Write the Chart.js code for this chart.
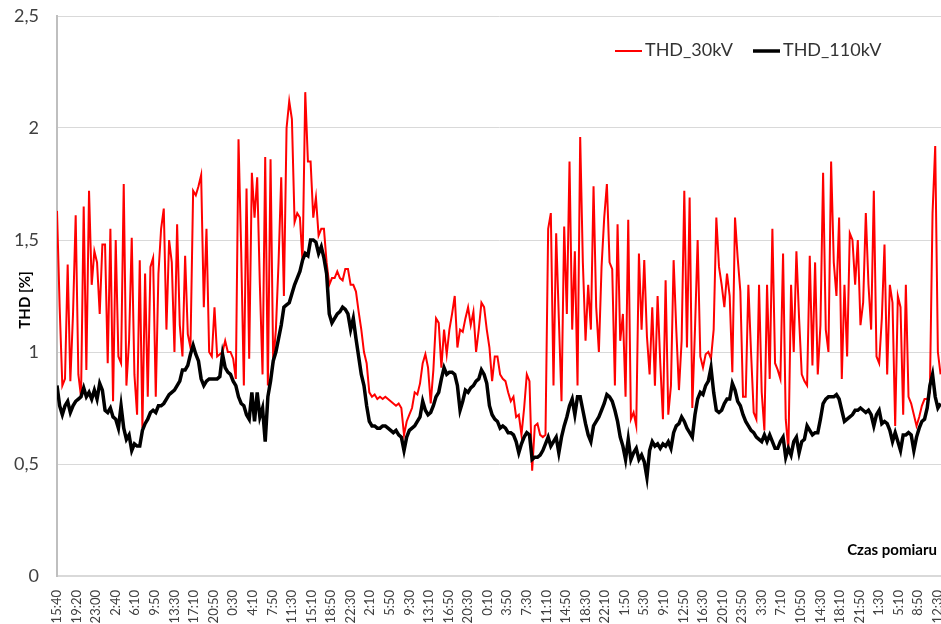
<!DOCTYPE html>
<html>
<head>
<meta charset="utf-8">
<title>THD</title>
<script src="https://cdn.jsdelivr.net/npm/chart.js@4.4.1/dist/chart.umd.min.js"></script>
<style>
  html, body { margin: 0; padding: 0; background: #fff; }
  canvas { display: block; }
</style>
</head>
<body>
<canvas id="thdChart" width="941" height="624"></canvas>
<script>
// ---------- DATA ----------
// one reading every 30 minutes, a time label every 220 minutes
const stepMinutes = 30;
const labelEveryMinutes = 220;

const timeLabels = [
  "15:40", "19:20", "23:00", "2:40", "6:10", "9:50", "13:30", "17:10", "20:50", "0:30",
  "4:10", "7:50", "11:30", "15:10", "18:50", "22:30", "2:10", "5:50", "9:30", "13:10",
  "16:50", "20:30", "0:10", "3:50", "7:30", "11:10", "14:50", "18:30", "22:10", "1:50",
  "5:30", "9:10", "12:50", "16:30", "20:10", "23:50", "3:30", "7:10", "10:50", "14:30",
  "18:10", "21:50", "1:30", "5:10", "8:50", "12:30"
];

const thd30kV = [
  1.63, 1.2, 0.85, 0.88, 1.39, 0.87, 1.17, 1.61, 0.9, 0.8, 1.65, 0.92, 1.72, 1.3, 1.45, 1.4,
  1.17, 1.48, 1.48, 0.95, 1.55, 0.78, 1.5, 0.98, 0.95, 1.75, 0.85, 1.05, 1.51, 0.9, 0.72, 1.41,
  0.66, 1.35, 0.8, 1.38, 1.42, 0.8, 1.35, 1.55, 1.64, 1.1, 1.5, 1.4, 1.0, 1.57, 1.12, 0.98,
  1.43, 1.08, 1.02, 1.72, 1.7, 1.74, 1.79, 1.2,
  1.55, 1.0, 0.98, 1.2, 0.98, 0.99, 1.0, 1.05, 1.0, 1.0, 0.97, 0.88, 1.95, 1.45, 0.85, 1.73,
  0.97, 1.8, 1.6, 1.78, 1.3, 0.9, 1.87, 0.85, 1.86, 0.95, 1.1, 1.4, 1.78, 1.25, 2.0, 2.12,
  2.04, 1.58, 1.62, 1.6, 1.4, 2.16, 1.85, 1.85, 1.6, 1.69, 1.52, 1.55, 1.55, 1.4, 1.3, 1.33,
  1.33, 1.36, 1.33, 1.32, 1.37, 1.37, 1.3,
  1.3, 1.27, 1.18, 1.1, 1.0, 0.95, 0.82, 0.8, 0.81, 0.79, 0.8, 0.79, 0.8, 0.79, 0.78, 0.77,
  0.76, 0.77, 0.75, 0.63, 0.69, 0.72, 0.75, 0.82, 0.81, 0.86, 0.95, 0.99, 0.93, 0.77, 0.92, 1.15,
  1.13, 0.93, 1.1, 0.99, 1.1, 1.17, 1.25, 1.02, 1.1, 1.09, 1.15, 1.2, 1.12, 1.18, 1.0, 1.1,
  1.22, 1.2, 1.1, 1.02, 0.87, 0.98, 0.98, 0.9,
  0.88, 0.87, 0.82, 0.78, 0.8, 0.71, 0.72, 0.63, 0.75, 0.9, 0.87, 0.47, 0.67, 0.68, 0.63, 0.62,
  0.63, 1.55, 1.62, 0.85, 1.53, 1.15, 0.78, 1.56, 1.17, 1.85, 1.1, 1.45, 0.85, 1.96, 1.4, 1.05,
  1.3, 1.1, 1.74, 1.2, 1.0, 1.38, 1.6, 1.75, 1.4, 1.37, 0.85, 1.57, 1.05, 1.17, 0.8, 1.59,
  0.7, 0.73, 0.67, 1.44, 1.1, 1.41, 1.07,
  0.9, 1.2, 0.85, 1.25, 0.95, 0.7, 1.32, 0.72, 0.85, 1.41, 1.1, 0.83, 1.05, 1.72, 1.02, 1.69,
  0.75, 1.1, 1.5, 0.98, 0.93, 0.99, 1.0, 0.97, 1.1, 1.6, 1.38, 1.3, 1.2, 1.35, 1.25, 0.91,
  1.6, 1.42, 1.27, 0.8, 0.8, 1.3, 1.0, 0.73, 0.7, 1.3, 0.82, 0.65, 1.3, 0.88, 1.55, 0.95,
  0.92, 0.88, 1.44, 0.7, 0.56, 1.3, 1.0, 1.45,
  1.15, 0.9, 0.87, 0.85, 1.43, 0.94, 1.4, 0.9, 1.12, 1.8, 1.1, 1.0, 1.85, 1.4, 1.25, 1.6,
  0.88, 1.3, 0.98, 1.53, 1.5, 1.3, 1.5, 1.12, 1.22, 1.62, 1.3, 1.1, 1.72, 0.98, 0.95, 1.15,
  1.48, 0.9, 1.3, 1.22, 0.67, 1.25, 1.2, 0.72, 1.3, 0.8, 0.77, 0.72, 0.67, 0.71, 0.76, 0.79,
  0.79, 0.82, 1.62, 1.92, 1.0, 0.9
];

const thd110kV = [
  0.85, 0.76, 0.72, 0.76, 0.78, 0.73, 0.76, 0.78, 0.79, 0.8, 0.84, 0.8, 0.82, 0.79, 0.83, 0.79,
  0.86, 0.83, 0.74, 0.73, 0.75, 0.71, 0.7, 0.66, 0.76, 0.66, 0.61, 0.63, 0.56, 0.59, 0.58, 0.58,
  0.65, 0.68, 0.7, 0.73, 0.74, 0.73, 0.76, 0.76, 0.77, 0.79, 0.81, 0.82, 0.83, 0.85, 0.87, 0.92,
  0.92, 0.94, 0.99, 1.03, 0.99, 0.96, 0.88, 0.85,
  0.87, 0.88, 0.88, 0.88, 0.88, 0.89, 0.99, 0.93, 0.91, 0.9, 0.87, 0.85, 0.8, 0.77, 0.76, 0.72,
  0.7, 0.82, 0.69, 0.82, 0.71, 0.75, 0.6, 0.8, 0.87, 0.96, 1.0, 1.06, 1.12, 1.2, 1.21, 1.22,
  1.26, 1.3, 1.33, 1.36, 1.41, 1.44, 1.43, 1.5, 1.5, 1.49, 1.44, 1.47, 1.42, 1.35, 1.17, 1.13,
  1.15, 1.17, 1.18, 1.2, 1.19, 1.17, 1.1,
  1.15, 1.06, 0.98, 0.9, 0.85, 0.76, 0.69, 0.67, 0.67, 0.66, 0.66, 0.67, 0.67, 0.66, 0.65, 0.64,
  0.65, 0.63, 0.62, 0.56, 0.62, 0.65, 0.66, 0.67, 0.69, 0.71, 0.78, 0.74, 0.72, 0.73, 0.76, 0.8,
  0.82, 0.88, 0.93, 0.9, 0.91, 0.91, 0.9, 0.85, 0.74, 0.78, 0.83, 0.82, 0.84, 0.85, 0.87, 0.88,
  0.92, 0.9, 0.86, 0.76, 0.72, 0.7, 0.69, 0.66,
  0.67, 0.66, 0.64, 0.64, 0.63, 0.6, 0.55, 0.59, 0.62, 0.64, 0.63, 0.52, 0.53, 0.53, 0.54, 0.56,
  0.59, 0.62, 0.58, 0.6, 0.62, 0.55, 0.62, 0.67, 0.71, 0.76, 0.79, 0.72, 0.8, 0.8, 0.74, 0.68,
  0.63, 0.6, 0.67, 0.69, 0.71, 0.74, 0.77, 0.81, 0.8, 0.78, 0.74, 0.69, 0.62, 0.58, 0.52, 0.61,
  0.52, 0.55, 0.57, 0.52, 0.54, 0.51, 0.44,
  0.56, 0.6, 0.58, 0.59, 0.57, 0.59, 0.58, 0.6, 0.57, 0.64, 0.67, 0.68, 0.71, 0.69, 0.66, 0.64,
  0.62, 0.72, 0.79, 0.82, 0.81, 0.85, 0.87, 0.93, 0.82, 0.74, 0.73, 0.74, 0.77, 0.79, 0.79, 0.86,
  0.83, 0.78, 0.76, 0.72, 0.69, 0.67, 0.65, 0.64, 0.62, 0.61, 0.6, 0.63, 0.6, 0.63, 0.6, 0.57,
  0.57, 0.6, 0.62, 0.53, 0.57, 0.54, 0.6, 0.62,
  0.55, 0.6, 0.61, 0.67, 0.65, 0.63, 0.64, 0.64, 0.7, 0.77, 0.79, 0.8, 0.8, 0.8, 0.81, 0.79,
  0.74, 0.69, 0.7, 0.71, 0.72, 0.74, 0.74, 0.75, 0.74, 0.73, 0.74, 0.72, 0.67, 0.72, 0.74, 0.68,
  0.69, 0.68, 0.65, 0.6, 0.64, 0.6, 0.56, 0.63, 0.63, 0.64, 0.63, 0.56, 0.62, 0.66, 0.69, 0.7,
  0.75, 0.85, 0.9, 0.8, 0.75, 0.77
];

// ---------- CHART ----------
const FONT = 'Lato, "Liberation Sans", sans-serif';
Chart.defaults.font.family = FONT;
Chart.defaults.color = "#404040";

const toPoints = (values) => values.map((v, i) => ({ x: i * stepMinutes, y: v }));

// axis title, legend and "Czas pomiaru" drawn inside the plot like the original
const extraText = {
  id: "extraText",
  afterDraw(chart) {
    const c = chart.ctx;
    const area = chart.chartArea;
    c.save();

    // y axis title
    c.save();
    c.translate(25, 300);
    c.rotate(-Math.PI / 2);
    c.font = "bold 15px " + FONT;
    c.fillStyle = "#000";
    c.textAlign = "center";
    c.textBaseline = "middle";
    c.fillText("THD [%]", 0, 0);
    c.restore();

    // x axis title
    c.font = "bold 15px " + FONT;
    c.fillStyle = "#000";
    c.textAlign = "right";
    c.textBaseline = "alphabetic";
    c.fillText("Czas pomiaru", area.right - 4, area.bottom - 21);

    // legend
    c.font = "18px " + FONT;
    c.fillStyle = "#333";
    c.textBaseline = "middle";
    c.textAlign = "left";
    const ly = 51;
    c.strokeStyle = "#ff0000";
    c.lineWidth = 2;
    c.beginPath(); c.moveTo(615, ly); c.lineTo(642, ly); c.stroke();
    c.fillText("THD_30kV", 645, ly - 1);
    c.strokeStyle = "#000";
    c.lineWidth = 3.5;
    c.beginPath(); c.moveTo(753, ly); c.lineTo(780, ly); c.stroke();
    c.fillText("THD_110kV", 783, ly - 1);

    c.restore();
  }
};

const ctx = document.getElementById("thdChart").getContext("2d");

new Chart(ctx, {
  type: "line",
  data: {
    datasets: [
      {
        label: "THD_30kV",
        data: toPoints(thd30kV),
        borderColor: "#ff0000",
        borderWidth: 2,
        pointRadius: 0,
        tension: 0,
        order: 2,
      },
      {
        label: "THD_110kV",
        data: toPoints(thd110kV),
        borderColor: "#000000",
        borderWidth: 3.5,
        pointRadius: 0,
        tension: 0,
        order: 1,
      },
    ],
  },
  options: {
    responsive: false,
    animation: false,
    layout: { padding: { top: 16, right: 0, left: 0, bottom: 0 } },
    plugins: {
      legend: { display: false },
      tooltip: { enabled: false },
    },
    scales: {
      x: {
        type: "linear",
        min: 0,
        max: 9935,
        afterBuildTicks: (scale) => {
          scale.ticks = timeLabels.map((_, k) => ({ value: k * labelEveryMinutes }));
        },
        afterFit: (scale) => {
          scale.height = 48;
          scale.paddingLeft = 0;
          scale.paddingRight = 0;
        },
        ticks: {
          autoSkip: false,
          minRotation: 90,
          maxRotation: 90,
          padding: 6,
          font: { size: 13 },
          callback: (value) => timeLabels[Math.round(value / labelEveryMinutes)],
        },
        grid: { display: false },
        border: { color: "#d9d9d9", width: 2 },
      },
      y: {
        min: 0,
        max: 2.5,
        afterFit: (scale) => {
          scale.width = 57;
          scale.paddingTop = 0;
          scale.paddingBottom = 0;
        },
        ticks: {
          stepSize: 0.5,
          padding: 18,
          font: { size: 18 },
          callback: (value) => String(value).replace(".", ","),
        },
        grid: { color: "#d9d9d9", drawTicks: false },
        border: { color: "#bfbfbf", width: 2 },
      },
    },
  },
  plugins: [extraText],
});
</script>
</body>
</html>
